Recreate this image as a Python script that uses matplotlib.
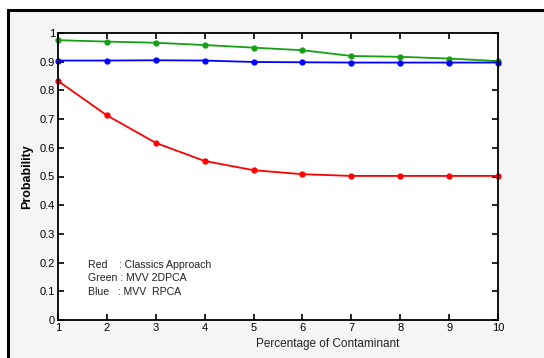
import matplotlib
matplotlib.use('Agg')
import matplotlib.pyplot as plt
from matplotlib.patches import Rectangle

plt.rcParams['font.family'] = ['Liberation Sans', 'DejaVu Sans']

# data
contaminant = [1, 2, 3, 4, 5, 6, 7, 8, 9, 10]
red_classic = [0.833, 0.713, 0.617, 0.554, 0.522, 0.508, 0.502, 0.502, 0.502, 0.502]
green_2dpca = [0.975, 0.970, 0.966, 0.958, 0.949, 0.940, 0.920, 0.917, 0.911, 0.902]
blue_rpca = [0.904, 0.904, 0.905, 0.904, 0.899, 0.898, 0.897, 0.897, 0.897, 0.897]
legend_lines = ['Red    : Classics Approach', 'Green : MVV 2DPCA', 'Blue   : MVV  RPCA']

W, H = 544, 358
fig = plt.figure(figsize=(W / 100, H / 100), dpi=100)
fig.patch.set_facecolor('white')

# gray panel with black frame running off the right/bottom edge
frame = Rectangle((8 / W, -0.2), 1.2, 1 - 10 / H + 0.2, transform=fig.transFigure,
                  facecolor='#f5f5f5', edgecolor='black', linewidth=2.2, zorder=-10)
fig.patches.append(frame)

ax = fig.add_axes([58 / W, 1 - 320 / H, 440 / W, 287 / H])
ax.set_facecolor('white')

ax.plot(contaminant, green_2dpca, color='#16a016', lw=1.3, marker='o', ms=3.5, clip_on=False)
ax.plot(contaminant, blue_rpca, color='#0000ff', lw=1.3, marker='o', ms=3.5, clip_on=False)
ax.plot(contaminant, red_classic, color='#ff0000', lw=1.3, marker='o', ms=3.5, clip_on=False)

ax.set_xlim(1, 10)
ax.set_ylim(0, 1)
ax.set_xticks(contaminant)
ax.set_xticklabels([str(v) for v in contaminant])
ax.set_yticks([i / 10 for i in range(11)])
ax.set_yticklabels(['0', '0.1', '0.2', '0.3', '0.4', '0.5', '0.6', '0.7', '0.8', '0.9', '1'])

ax.tick_params(direction='in', top=True, right=True, length=4, width=1.2,
               labelsize=8, colors='black', pad=2)
for s in ax.spines.values():
    s.set_linewidth(1.3)

ax.set_ylabel('Probability', fontsize=9, fontweight='bold', labelpad=5)
ax.text(0.613, -0.082, 'Percentage of Contaminant', transform=ax.transAxes,
        ha='center', va='center', fontsize=8.5, color='#222222')

for i, line in enumerate(legend_lines):
    ax.text(0.068, 0.193 - i * 0.047, line, transform=ax.transAxes,
            ha='left', va='center', fontsize=7.6, color='#222222')

fig.savefig('out.png', dpi=100)
